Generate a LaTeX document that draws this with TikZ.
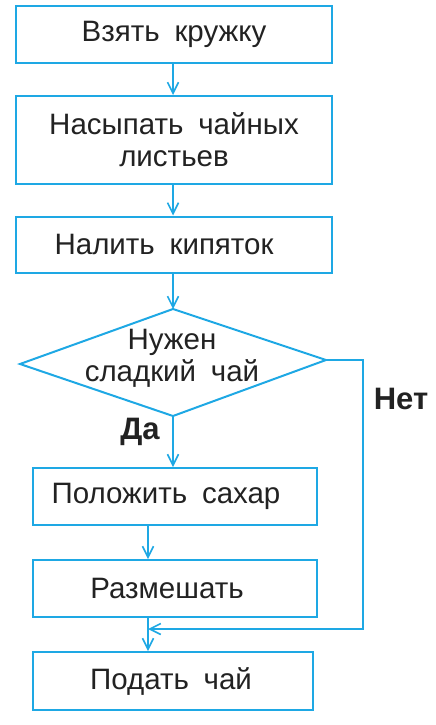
\documentclass[tikz,border=0pt]{standalone}
\usepackage{fontspec}
\setmainfont{Liberation Sans}
\usetikzlibrary{arrows.meta,shapes.geometric}
\definecolor{fc}{HTML}{1EA8E4}
\definecolor{tc}{HTML}{222222}
\newcommand{\ws}{\hspace{0.5em}}
\newcommand{\shl}[1]{\kern#1pt}
\begin{document}
\begin{tikzpicture}[x=1pt,y=-1pt,
  line width=2pt,
  blk/.style={draw=fc,line width=2pt,text=tc,font=\fontsize{29.5}{32}\selectfont,align=center,inner sep=0pt},
  arr/.style={draw=fc,line width=2pt,-{Straight Barb[length=11pt,width=11pt,line width=1.6pt]}},
  lbl/.style={text=tc,font=\fontsize{31}{34}\selectfont\bfseries}]
\useasboundingbox (0,0) rectangle (436,725);
\node[blk,minimum width=316pt,minimum height=57pt] (b1) at (174,34.5) {Взять\ws кружку};
\node[blk,minimum width=316pt,minimum height=88pt] (b2) at (174,140) {Насыпать\ws чайных\\листьев};
\node[blk,minimum width=316pt,minimum height=56pt] (b3) at (174,244.5) {Налить\ws кипяток\shl{20}};
\coordinate (dt) at (173,309);
\coordinate (dl) at (20,364);
\coordinate (dr) at (326,360);
\coordinate (db) at (173,416);
\draw[fc,line width=2pt,line join=miter] (dt) -- (dr) -- (db) -- (dl) -- cycle;
\node[text=tc,font=\fontsize{29.5}{32}\selectfont,align=center,inner sep=0pt] (dtext) at (172,358) {Нужен\\сладкий\ws чай};
\node[blk,minimum width=284pt,minimum height=57pt] (b4) at (175,496.5) {Положить\ws сахар\shl{18}};
\node[blk,minimum width=284pt,minimum height=57pt] (b5) at (175,588.5) {Размешать\shl{16}};
\node[blk,minimum width=280pt,minimum height=58pt] (b6) at (173,681) {Подать\ws чай\shl{4}};
\node[lbl] (da) at (140,432) {Да};
\node[lbl] (net) at (401,399) {Нет};
\coordinate (c1) at (363,360);
\coordinate (c2) at (363,629);
\coordinate (c3) at (148,629);
\draw[arr] (b1.south -| dt) -- (b2.north -| dt);
\draw[arr] (b2.south -| dt) -- (b3.north -| dt);
\draw[arr] (b3.south -| dt) -- (dt);
\draw[arr] (db) -- (b4.north -| db);
\draw[arr] (b4.south -| c3) -- (b5.north -| c3);
\draw[arr] (b5.south -| c3) -- (b6.north -| c3);
\draw[arr] (dr) -- (c1) -- (c2) -- (c3);
\end{tikzpicture}
\end{document}
